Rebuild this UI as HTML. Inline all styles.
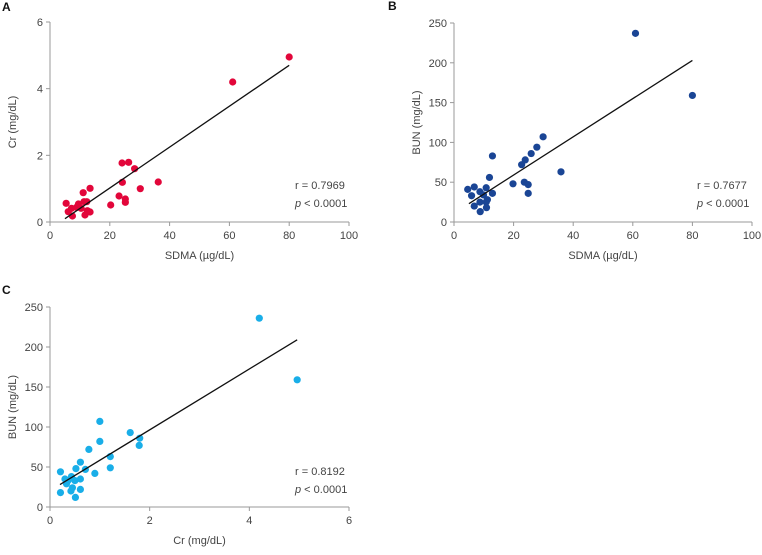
<!DOCTYPE html>
<html><head><meta charset="utf-8"><style>
body{margin:0;background:#fff;width:762px;height:550px;overflow:hidden}
svg text{font-family:"Liberation Sans",sans-serif;fill:#444}
</style></head><body>
<svg id="chart" width="762" height="550"></svg>
<script>
// Panel A: SDMA vs Cr
const aX=[5.4,6.1,7.2,7.5,8.9,9.5,10.4,11.1,11.4,11.7,12.3,12.5,13.4,13.4,20.3,23.1,24.1,24.2,25.2,25.2,26.3,28.3,30.2,36.2,61.1,80];
const aY=[0.56,0.31,0.41,0.18,0.44,0.54,0.41,0.88,0.61,0.21,0.61,0.34,1.01,0.30,0.51,0.78,1.77,1.19,0.69,0.59,1.79,1.6,1.0,1.2,4.2,4.95];
const aFit=[[5,0.1],[80,4.7]];
const aXTicks=[0,20,40,60,80,100], aYTicks=[0,2,4,6];
// Panel B: SDMA vs BUN
const bX=[4.6,5.9,6.8,6.8,8.7,8.7,8.8,9.9,10.8,10.8,10.9,11.2,11.9,12.9,12.9,19.8,22.7,23.6,23.9,24.9,24.9,25.9,27.8,29.9,35.9,60.9,80];
const bY=[41,33,44,20,38,25,13,34,43,25,18,28,56,83,36,48,72,50,78,47,36,86,94,107,63,237,159];
const bFit=[[5,23],[80,203]];
const bXTicks=[0,20,40,60,80,100], bYTicks=[0,50,100,150,200,250];
// Panel C: Cr vs BUN
const cX=[0.21,0.21,0.3,0.33,0.36,0.42,0.43,0.45,0.5,0.51,0.52,0.61,0.61,0.61,0.71,0.78,0.9,1.0,1.0,1.21,1.21,1.61,1.79,1.8,4.2,4.96];
const cY=[44,18,35,29,33,20,38,24,33,12,48,56,35,22,47,72,42,107,82,63,49,93,77,86,236,159];
const cFit=[[0.2,28],[4.96,209]];
const cXTicks=[0,2,4,6], cYTicks=[0,50,100,150,200,250];

const svg=document.getElementById('chart');
const NS='http://www.w3.org/2000/svg';
function mk(t,a,p){const e=document.createElementNS(NS,t);for(const k in a)e.setAttribute(k,a[k]);(p||svg).appendChild(e);return e;}

function panel(o){
  const g=mk('g',{});
  
  
  const sx=v=>o.x0+(v-o.xmin)/(o.xmax-o.xmin)*(o.x1-o.x0);
  const sy=v=>o.y0-(v-o.ymin)/(o.ymax-o.ymin)*(o.y0-o.y1);
  const lab=mk('text',{x:o.lx,y:o.ly,'font-size':12,'font-weight':'bold',style:'fill:#111'},g);lab.textContent=o.letter;
  
  const ax=mk('line',{x1:o.x0,y1:o.y0,x2:o.x1,y2:o.y0,stroke:'#999','stroke-width':1},g);
  
  const ay=mk('line',{x1:o.x0,y1:o.y0,x2:o.x0,y2:o.y1,stroke:'#999','stroke-width':1},g);
  
  o.xt.forEach(v=>{mk('line',{x1:sx(v),x2:sx(v),y1:o.y0,y2:o.y0+4,stroke:'#999'},g);
    const t=mk('text',{x:sx(v),y:o.y0+17,'font-size':11,'text-anchor':'middle'},g);t.textContent=v;
    });
  o.yt.forEach(v=>{mk('line',{x1:o.x0-4,x2:o.x0,y1:sy(v),y2:sy(v),stroke:'#999'},g);
    const t=mk('text',{x:o.x0-7,y:sy(v)+4,'font-size':11,'text-anchor':'end'},g);t.textContent=v;
    });
  const xt=mk('text',{x:(o.x0+o.x1)/2,y:o.y0+37,'font-size':11,'text-anchor':'middle'},g);xt.textContent=o.xlab;
  
  const cy=(o.y0+o.y1)/2, cx=o.x0-34;
  const yt=mk('text',{x:cx,y:cy,'font-size':11,'text-anchor':'middle',transform:`rotate(-90 ${cx} ${cy})`},g);yt.textContent=o.ylab;
  
  o.xs.forEach((v,i)=>{const c=mk('circle',{cx:sx(v),cy:sy(o.ys[i]),r:3.6,fill:o.color},g);
    });
  const l=mk('line',{x1:sx(o.fit[0][0]),y1:sy(o.fit[0][1]),x2:sx(o.fit[1][0]),y2:sy(o.fit[1][1]),stroke:'#111','stroke-width':1.3},g);
  
  const r=mk('text',{x:o.sx,y:o.sy,'font-size':11},g);r.textContent='r = '+o.r;
  
  const p=mk('text',{x:o.sx,y:o.sy+18,'font-size':11},g);p.innerHTML='<tspan font-style="italic">p</tspan> &lt; 0.0001';
  
}
panel({name:'panel-a',letter:'A',lx:2,ly:11,x0:50,x1:349,y0:222,y1:22,xmin:0,xmax:100,ymin:0,ymax:6,xt:aXTicks,yt:aYTicks,xs:aX,ys:aY,fit:aFit,color:'#e2063a',xlab:'SDMA (µg/dL)',ylab:'Cr (mg/dL)',r:'0.7969',sx:295,sy:189});
panel({name:'panel-b',letter:'B',lx:388,ly:10,x0:454,x1:752,y0:222,y1:23,xmin:0,xmax:100,ymin:0,ymax:250,xt:bXTicks,yt:bYTicks,xs:bX,ys:bY,fit:bFit,color:'#1a4595',xlab:'SDMA (µg/dL)',ylab:'BUN (mg/dL)',r:'0.7677',sx:697,sy:189});
panel({name:'panel-c',letter:'C',lx:2,ly:294,x0:50,x1:349,y0:507,y1:307,xmin:0,xmax:6,ymin:0,ymax:250,xt:cXTicks,yt:cYTicks,xs:cX,ys:cY,fit:cFit,color:'#19aee8',xlab:'Cr (mg/dL)',ylab:'BUN (mg/dL)',r:'0.8192',sx:295,sy:475});
</script>
</body></html>
